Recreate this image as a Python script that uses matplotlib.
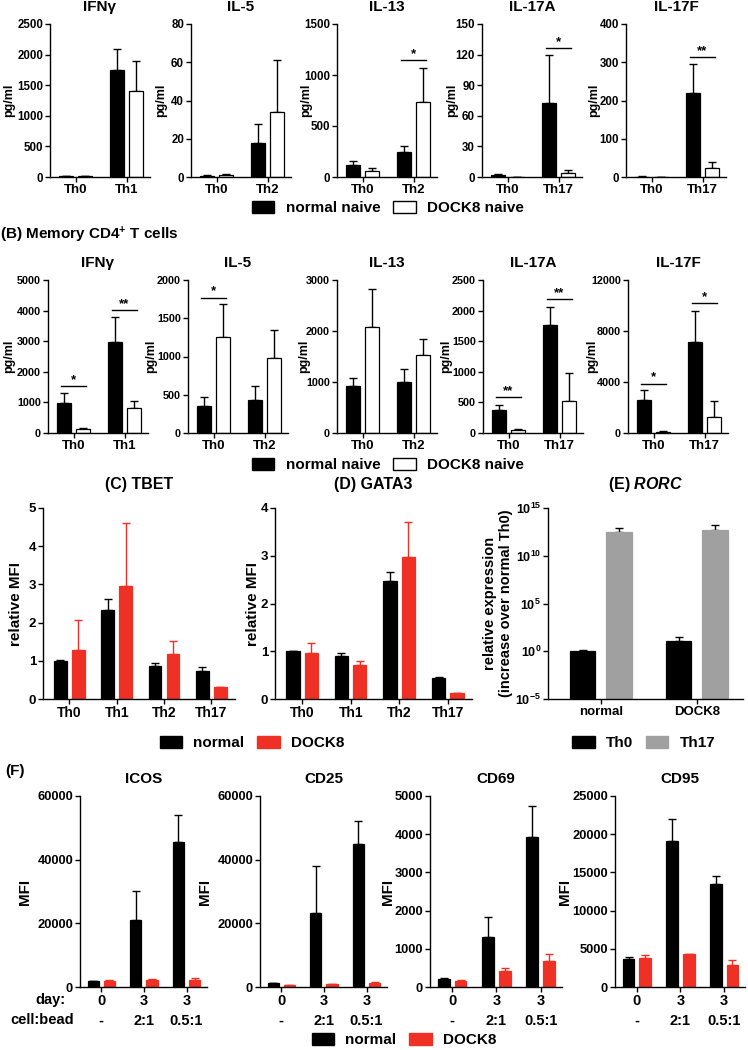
import matplotlib
matplotlib.use('Agg')
import matplotlib.pyplot as plt
from matplotlib.patches import Patch
import numpy as np

plt.rcParams['font.family'] = ['Liberation Sans', 'DejaVu Sans']
plt.rcParams['font.weight'] = 'bold'
plt.rcParams['axes.labelweight'] = 'bold'
plt.rcParams['mathtext.fontset'] = 'custom'
plt.rcParams['mathtext.rm'] = 'Liberation Sans:bold'
plt.rcParams['mathtext.bf'] = 'Liberation Sans:bold'
plt.rcParams['mathtext.it'] = 'Liberation Sans:italic:bold'

RED = '#ee3124'
GREY = '#a0a0a0'

# ---- (A) naive CD4 T cells, cytokines (pg/ml)
cyto_titles = ['IFNγ', 'IL-5', 'IL-13', 'IL-17A', 'IL-17F']
naive_groups = [['Th0', 'Th1'], ['Th0', 'Th2'], ['Th0', 'Th2'], ['Th0', 'Th17'], ['Th0', 'Th17']]
naive_normal = [[10, 1750], [0.6, 18], [115, 246], [2, 73], [1, 220]]
naive_normal_err = [[5, 340], [0.2, 9.5], [42, 59], [1.3, 47], [0.5, 75]]
naive_dock8 = [[15, 1400], [1.0, 34], [56, 738], [0.3, 4], [1, 24]]
naive_dock8_err = [[8, 500], [0.4, 27], [32, 334], [0, 3], [0.3, 14]]
naive_ymax = [2500, 80, 1500, 150, 400]
naive_ystep = [500, 20, 500, 30, 100]
naive_sig = [[], [], [(1, 1148, '*')], [(1, 126, '*')], [(1, 314, '**')]]

# ---- (B) memory CD4 T cells
mem_groups = [['Th0', 'Th1'], ['Th0', 'Th2'], ['Th0', 'Th2'], ['Th0', 'Th17'], ['Th0', 'Th17']]
mem_normal = [[983, 2970], [358, 428], [923, 1002], [371, 1758], [2567, 7152]]
mem_normal_err = [[337, 830], [114, 188], [157, 249], [93, 305], [813, 2438]]
mem_dock8 = [[120, 808], [1253, 983], [2069, 1526], [55, 518], [80, 1258]]
mem_dock8_err = [[55, 240], [428, 362], [747, 314], [16, 465], [50, 1231]]
mem_ymax = [5000, 2000, 3000, 2500, 12000]
mem_ystep = [1000, 500, 1000, 500, 4000]
mem_sig = [[(0, 1540, '*'), (1, 4018, '**')], [(0, 1769, '*')], [],
           [(0, 590, '**'), (1, 2189, '**')], [(0, 3877, '*'), (1, 10217, '*')]]

# ---- (C) TBET, (D) GATA3 relative MFI
tf_groups = ['Th0', 'Th1', 'Th2', 'Th17']
tbet_normal = [1.0, 2.33, 0.86, 0.74]
tbet_normal_err = [0.02, 0.29, 0.09, 0.09]
tbet_dock8 = [1.29, 2.97, 1.18, 0.32]
tbet_dock8_err = [0.78, 1.63, 0.33, 0]
gata3_normal = [1.0, 0.91, 2.47, 0.45]
gata3_normal_err = [0.01, 0.05, 0.2, 0.01]
gata3_dock8 = [0.97, 0.72, 2.97, 0.12]
gata3_dock8_err = [0.21, 0.08, 0.74, 0]

# ---- (E) RORC relative expression
rorc_groups = ['normal', 'DOCK8']
rorc_th0 = [1.0, 10.5]
rorc_th0_top = [1.3, 28]
rorc_th17 = [2.9e12, 5.1e12]
rorc_th17_top = [7.7e12, 1.7e13]

# ---- (F) activation markers MFI
act_groups = ['0\n-', '3\n2:1', '3\n0.5:1']
act_titles = ['ICOS', 'CD25', 'CD69', 'CD95']
act_normal = [[2000, 21150, 45650], [1100, 23250, 45000], [210, 1311, 3934], [3671, 19100, 13418]]
act_normal_err = [[0, 9000, 8250], [100, 14650, 7100], [20, 516, 804], [306, 2885, 1092]]
act_dock8 = [[1900, 2300, 2200], [600, 800, 1300], [165, 411, 673], [3802, 4283, 2841]]
act_dock8_err = [[200, 200, 700], [100, 100, 300], [20, 87, 201], [350, 87, 743]]
act_ymax = [60000, 60000, 5000, 25000]
act_ystep = [20000, 20000, 1000, 5000]

W, H = 748, 1050
fig = plt.figure(figsize=(W / 100, H / 100), dpi=100)


def px_box(left, right, top, bottom):
    return [left / W, 1 - bottom / H, (right - left) / W, (bottom - top) / H]


def style(ax, fs):
    for s in ['top', 'right']:
        ax.spines[s].set_visible(False)
    for s in ['left', 'bottom']:
        ax.spines[s].set_linewidth(1.0)
    ax.tick_params(direction='out', length=3.5, width=1.0, labelsize=fs, pad=1.5)


def ylabel_at(ax, text, fs, left, right, xpx):
    # right edge of the rotated label placed at pixel column xpx
    ax.set_ylabel(text, fontsize=fs)
    ax.yaxis.set_label_coords((xpx - left) / (right - left), 0.5)


def pair(ax, a, a_err, b, b_err, fc, ec, errc, width=0.27, off=0.19, bottom=0):
    x = np.arange(len(a))
    a = np.array(a, float)
    b = np.array(b, float)
    ax.bar(x - off, a - bottom, width, bottom=bottom, color=fc[0], edgecolor=ec[0], linewidth=0.9, zorder=2)
    ax.bar(x + off, b - bottom, width, bottom=bottom, color=fc[1], edgecolor=ec[1], linewidth=0.9, zorder=2)
    ax.errorbar(x - off, a, yerr=[np.zeros(len(a)), a_err], fmt='none', ecolor=errc[0],
                elinewidth=1.0, capsize=3, capthick=1.0, zorder=1)
    ax.errorbar(x + off, b, yerr=[np.zeros(len(b)), b_err], fmt='none', ecolor=errc[1],
                elinewidth=1.0, capsize=3, capthick=1.0, zorder=1)
    return x


def sig(ax, x, y, label):
    ax.plot([x - 0.25, x + 0.25], [y, y], color='black', lw=1.0, clip_on=False)
    ax.text(x, y, label, ha='center', va='bottom', fontsize=9.5)


def title(x, y, s, fs=11):
    fig.text(x / W, 1 - y / H, s, ha='center', va='center', fontsize=fs, fontweight='bold')


def legend(handles, labels, cx, cy):
    fig.legend(handles, labels, loc='center', bbox_to_anchor=(cx / W, 1 - cy / H),
               ncol=2, frameon=False, fontsize=11, handlelength=1.45, handleheight=0.8,
               handletextpad=0.75, columnspacing=0.85, borderaxespad=0, borderpad=0)


# rows 1 and 2
row1_lr = [(50, 150), (191, 291), (337, 437), (482, 582), (626, 726)]
row1_lab = [15, 167, 312, 458, 600]
row2_lr = [(48, 148), (188, 288), (337, 437), (483, 583), (628, 728)]
row2_lab = [15, 157, 310, 452, 598]
rows = [
    (row1_lr, row1_lab, 24, 177, 7, 8.3, naive_groups, naive_normal, naive_normal_err, naive_dock8,
     naive_dock8_err, naive_ymax, naive_ystep, naive_sig),
    (row2_lr, row2_lab, 280, 433, 263, 7.8, mem_groups, mem_normal, mem_normal_err, mem_dock8,
     mem_dock8_err, mem_ymax, mem_ystep, mem_sig),
]
for lr, lab, top, bot, ty, tfs, groups, nv, ne, dv, de, ymax, ystep, sigs in rows:
    for i in range(5):
        l, r = lr[i]
        ax = fig.add_axes(px_box(l, r, top, bot))
        x = pair(ax, nv[i], ne[i], dv[i], de[i], ['black', 'white'], ['black', 'black'], ['black', 'black'])
        ax.set_xlim(-0.5, 1.46)
        ax.set_ylim(0, ymax[i])
        ax.set_yticks(np.arange(0, ymax[i] + 1e-9, ystep[i]))
        ax.set_xticks(x)
        ax.set_xticklabels(groups[i])
        style(ax, tfs)
        ax.tick_params(axis='x', labelsize=9.5)
        ylabel_at(ax, 'pg/ml', 9, l, r, lab[i])
        for s in sigs[i]:
            sig(ax, *s)
        title((l + r) / 2, ty, cyto_titles[i])

legend_ab = [Patch(facecolor='black', edgecolor='black'), Patch(facecolor='white', edgecolor='black', linewidth=1)]
legend(legend_ab, ['normal naive', 'DOCK8 naive'], 388, 208)
legend(legend_ab, ['normal naive', 'DOCK8 naive'], 388, 465)

fig.text(0 / W, 1 - 235 / H, r'(B) Memory CD4$^{+}$ T cells', ha='left', va='center', fontsize=11)

# row 3: TBET, GATA3
for (l, r), lab, name, nv, ne, dv, de, ymax in [
        ((43, 235), 23, '(C) TBET', tbet_normal, tbet_normal_err, tbet_dock8, tbet_dock8_err, 5),
        ((275, 472), 260, '(D) GATA3', gata3_normal, gata3_normal_err, gata3_dock8, gata3_dock8_err, 4)]:
    ax = fig.add_axes(px_box(l, r, 508, 699))
    x = pair(ax, nv, ne, dv, de, ['black', RED], ['black', RED], ['black', RED])
    ax.set_xlim(-0.56, 3.5)
    ax.set_ylim(0, ymax)
    ax.set_yticks(range(ymax + 1))
    ax.set_xticks(x)
    ax.set_xticklabels(tf_groups)
    style(ax, 9.5)
    ax.tick_params(axis='x', labelsize=10)
    ylabel_at(ax, 'relative MFI', 11, l, r, lab)
    title((l + r) / 2, 484, name, 11.5)

# RORC
l, r = 548, 743
ax = fig.add_axes(px_box(l, r, 508, 699))
ax.set_yscale('log')
x = pair(ax, rorc_th0, np.array(rorc_th0_top) - np.array(rorc_th0), rorc_th17,
         np.array(rorc_th17_top) - np.array(rorc_th17), ['black', GREY], ['black', GREY],
         ['black', 'black'], width=0.265, off=0.19, bottom=1e-5)
ax.set_xlim(-0.55, 1.48)
ax.set_ylim(1e-5, 1e15)
ax.set_yticks([1e-5, 1e0, 1e5, 1e10, 1e15])
ax.set_yticklabels([r'$10^{-5}$', r'$10^{0}$', r'$10^{5}$', r'$10^{10}$', r'$10^{15}$'])
ax.minorticks_off()
ax.set_xticks(x)
ax.set_xticklabels(rorc_groups)
style(ax, 9)
ax.tick_params(axis='x', labelsize=9.5)
ylabel_at(ax, 'relative expression\n(increase over normal Th0)', 10.5, l, r, 513)
fig.text(646 / W, 1 - 484 / H, r'(E) $\it{RORC}$', ha='center', va='center', fontsize=11.5)

legend_cd = [Patch(facecolor='black', edgecolor='black'), Patch(facecolor=RED, edgecolor=RED)]
legend(legend_cd, ['normal', 'DOCK8'], 252, 743)
legend_e = [Patch(facecolor='black', edgecolor='black'), Patch(facecolor=GREY, edgecolor=GREY)]
legend(legend_e, ['Th0', 'Th17'], 644, 743)

fig.text(5 / W, 1 - 771 / H, '(F)', ha='left', va='center', fontsize=11)

# row 4: activation markers
row4_lr = [(80, 207), (260, 387), (430, 562), (615, 745)]
row4_lab = [32, 212, 395, 572]
for i in range(4):
    l, r = row4_lr[i]
    ax = fig.add_axes(px_box(l, r, 796, 987))
    x = pair(ax, act_normal[i], act_normal_err[i], act_dock8[i], act_dock8_err[i],
             ['black', RED], ['black', RED], ['black', RED], width=0.265, off=0.19)
    ax.set_xlim(-0.5, 2.48)
    ax.set_ylim(0, act_ymax[i])
    ax.set_yticks(np.arange(0, act_ymax[i] + 1, act_ystep[i]))
    ax.set_xticks(x)
    ax.set_xticklabels(act_groups, linespacing=1.55)
    style(ax, 9.3)
    ax.tick_params(axis='x', labelsize=10.5)
    ylabel_at(ax, 'MFI', 11, l, r, row4_lab[i])
    title((l + r) / 2, 779, act_titles[i])

fig.text(65 / W, 1 - 1000 / H, 'day:', ha='right', va='center', fontsize=10.5)
fig.text(74 / W, 1 - 1020 / H, 'cell:bead', ha='right', va='center', fontsize=10.5)

legend(legend_cd, ['normal', 'DOCK8'], 404, 1040)

fig.savefig('out.png', dpi=100)
